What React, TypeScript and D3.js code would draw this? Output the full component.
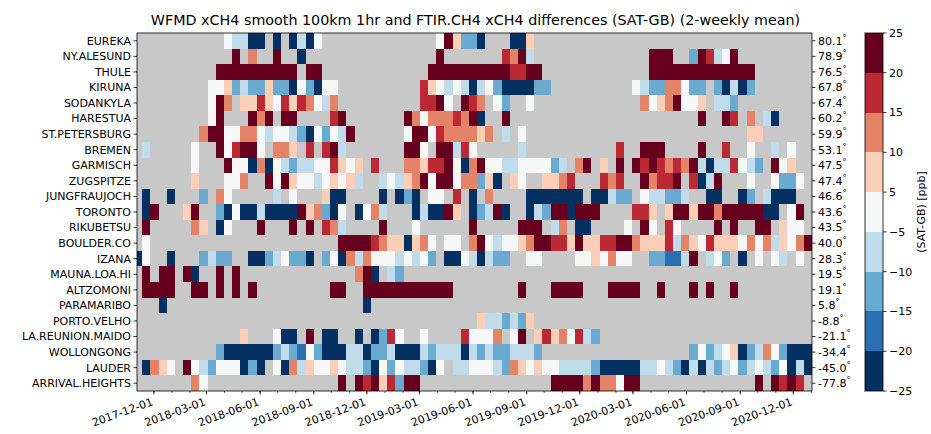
import React from "react";
import * as d3 from "d3";

const stations = [
  "EUREKA", "NY.ALESUND", "THULE", "KIRUNA", "SODANKYLA", "HARESTUA",
  "ST.PETERSBURG", "BREMEN", "GARMISCH", "ZUGSPITZE", "JUNGFRAUJOCH",
  "TORONTO", "RIKUBETSU", "BOULDER.CO", "IZANA", "MAUNA.LOA.HI", "ALTZOMONI",
  "PARAMARIBO", "PORTO.VELHO", "LA.REUNION.MAIDO", "WOLLONGONG", "LAUDER",
  "ARRIVAL.HEIGHTS",
];
const latitudes = [80.1, 78.9, 76.5, 67.8, 67.4, 60.2, 59.9, 53.1, 47.5, 47.4, 46.6, 43.6, 43.5, 40.0, 28.3, 19.5, 19.1, 5.8, -8.8, -21.1, -34.4, -45.0, -77.8];

const boundaries = [-25, -20, -15, -10, -5, 5, 10, 15, 20, 25];
const levelValues = [-22.5, -17.5, -12.5, -7.5, 0, 7.5, 12.5, 17.5, 22.5];
const levelColors = ["#053061", "#2870b1", "#68aad0", "#c0dceb", "#f6f7f7", "#fbceb7", "#e58368", "#bb2a34", "#67001f"];
const missingColor = "#c8c8c8";

// 2-weekly bins starting on this date; each char = binned difference level (0..8), '.' = no data
const firstBinStart = [2017, 9, 28];
const binDays = 14;
const axisStart = [2017, 10, 2];
const axisEnd = [2021, 0, 2];

const rowCodes = [
  ".......... .43300.0.0 304....... .......485 220...005. .......... .......... .......... ...",
  ".......... ..8.6..8.. 0......... .......8.. .....7683. .......... ...888..28 7348...... ...",
  ".......... 8888888888 .88....... ......8888 8888887788 .......... ...8888888 888888.... ...",
  ".........4 4523225220 42044..... .....75434 3034200002 2......... .432266422 .20302.... ...",
  ".........4 86.5575475 76436..... .....7784. 876.42..4. .......... ..64568445 .332...... ...",
  ".........4 8...868.88 ....78.... ...8646667 680..8.... .......... .........8 ..87.6.30. ...",
  "........68 8446643443 2042438... ...4884766 6656.3.4.. .......... .......... .....55... ...",
  ".3.....4.. 847884.665 .7.783.... ...884.883 74.....3.. .........7 ..888....8 ..7..4..3. 4..",
  ".......4.. .844060432 33447545.7 ...6657784 0684433444 423.68.5.8 .878767683 0337432.84 5..",
  ".......5.. .446..8485 44345453.. 3435684884 66250.54.. 5567...767 ..86778.70 38...4..42 24.",
  ".0..0...2. 64.....3.4 ...500.... 0.020.44.7 .0.6....00 00000.0032 2.433223.. 00..02.300 0..",
  ".08...58.. 2040030000 856204.046 3...030085 .02380..03 2880888... .775.58858 868888800. 48.",
  ".8.....65. 04...8...8 .8.763.... 8...4..... .8.....888 .36.00.... 4.84.74... .8.8..88.5 44.",
  ".4........ .......... .....88887 6550564.44 .684344568 8775855778 8655573654 7555464635 468",
  "04..0...23 22..002342 20.2406364 4434342.00 430322..44 ....445464 4..221138. 342.0.4.43 .4.",
  ".8.88.80.. 8.8....... .......680 .32....... .......... .......... .......... .......... ...",
  ".8888..88. 8.8.8..... ....88..88 888888888. .......8.. .8888...88 88..8...8. 8..8...... ...",
  "...0...... .......... ........0. .......... .......... .......... .......... .......... ...",
  ".......... .......... .......... .......... ..5332325. .......... .......... .......... ...",
  ".......... ...5...400 .8.00..0.0 274..4.... 74446.48.5 7564732... .......... .......... ...",
  ".......... 2000000232 1420003302 2300032333 0323223332 .......... ........24 2345023642 000",
  ".0654.8432 444020.406 3544543320 42433204.3 3444326545 4433332000 0033432030 3234234324 030",
  ".......64. .......... .....8.878 57288..... .......... .888868664 88........ ......8.87 87.",
];

const titleText = "WFMD xCH4 smooth 100km 1hr and FTIR.CH4 xCH4 differences (SAT-GB) (2-weekly mean)";
const colorbarLabel = "(SAT-GB) [ppb]";

const W = 931, H = 434;
const PL = 137, PR = 812, PT = 33, PB = 391;
const CB = { x0: 865, x1: 883 };
const FONT = "DejaVu Sans, sans-serif";
const FS = 11;

export default function App() {
  const utc = (a: number[]) => new Date(Date.UTC(a[0], a[1], a[2]));
  const x = d3.scaleUtc().domain([utc(axisStart), utc(axisEnd)]).range([PL, PR]);
  const y = d3.scaleBand<string>().domain(stations).range([PT, PB]);
  const color = d3.scaleThreshold<number, string>().domain(boundaries.slice(1, -1)).range(levelColors);
  const bin0 = utc(firstBinStart);

  const cells: { key: string; x: number; w: number; y: number; h: number; fill: string }[] = [];
  rowCodes.forEach((raw, r) => {
    const code = raw.replace(/ /g, "");
    for (let i = 0; i < code.length; i++) {
      const ch = code[i];
      if (ch === ".") continue;
      const v = levelValues[+ch];
      const s = d3.utcDay.offset(bin0, i * binDays);
      const e = d3.utcDay.offset(bin0, (i + 1) * binDays);
      const x0 = x(s), x1 = x(e);
      cells.push({ key: r + "-" + i, x: x0, w: x1 - x0, y: y(stations[r]) as number, h: y.bandwidth(), fill: color(v) });
    }
  });

  const [d0, d1] = x.domain();
  const months = d3.utcMonth.range(d0, d1);
  const major = months.filter((d) => d.getUTCMonth() % 3 === 2);
  const fmt = d3.utcFormat("%Y-%m-%d");

  const cbY = d3.scalePoint<string>().domain(boundaries.map(String)).range([PB, PT]);
  const latLabel = (v: number) => (v < 0 ? "-" : "") + Math.abs(v).toFixed(1);

  return (
    <svg width={W} height={H} style={{ position: "absolute", left: 0, top: 0, background: "#fff" }} fontFamily={FONT}>
      <defs>
        <clipPath id="plotclip">
          <rect x={PL} y={PT} width={PR - PL} height={PB - PT} />
        </clipPath>
      </defs>
      <rect x={0} y={0} width={W} height={H} fill="#fff" />
      <text x={(PL + PR) / 2 + 1} y={25} textAnchor="middle" fontSize={14.3} fill="#000">{titleText}</text>

      <rect x={PL} y={PT} width={PR - PL} height={PB - PT} fill={missingColor} />
      <g clipPath="url(#plotclip)" shapeRendering="crispEdges">
        {cells.map((c) => (
          <rect key={c.key} x={c.x} y={c.y} width={c.w} height={c.h} fill={c.fill} />
        ))}
      </g>
      <rect x={PL} y={PT} width={PR - PL} height={PB - PT} fill="none" stroke="#000" strokeWidth={0.8} />

      {stations.map((s, i) => {
        const cy = (y(s) as number) + y.bandwidth() / 2;
        return (
          <g key={s}>
            <line x1={PL - 3.5} x2={PL} y1={cy} y2={cy} stroke="#000" strokeWidth={0.8} />
            <text x={PL - 6} y={cy} dy="0.35em" textAnchor="end" fontSize={FS}>{s}</text>
            <line x1={PR} x2={PR + 3.5} y1={cy} y2={cy} stroke="#000" strokeWidth={0.8} />
            <text x={PR + 6} y={cy} dy="0.35em" textAnchor="start" fontSize={FS}>
              {latLabel(latitudes[i])}
              <tspan dy="-4" fontSize={8}>{"°"}</tspan>
            </text>
          </g>
        );
      })}

      {months.map((m) => (
        <line key={"mn" + m.getTime()} x1={x(m)} x2={x(m)} y1={PB} y2={PB + 2} stroke="#000" strokeWidth={0.6} />
      ))}
      {major.map((m) => {
        const tx = x(m);
        return (
          <g key={"mj" + m.getTime()}>
            <line x1={tx} x2={tx} y1={PB} y2={PB + 3.5} stroke="#000" strokeWidth={0.8} />
            <text transform={`translate(${tx - 3},${PB + 6}) rotate(-20)`} textAnchor="end" dy="0.75em" fontSize={FS}>{fmt(m)}</text>
          </g>
        );
      })}

      <g shapeRendering="crispEdges">
        {levelColors.map((c, i) => {
          const top = cbY(String(boundaries[i + 1])) as number;
          const bot = cbY(String(boundaries[i])) as number;
          return <rect key={c} x={CB.x0} y={top} width={CB.x1 - CB.x0} height={bot - top} fill={c} />;
        })}
      </g>
      <rect x={CB.x0} y={PT} width={CB.x1 - CB.x0} height={PB - PT} fill="none" stroke="#000" strokeWidth={0.8} />
      {boundaries.map((b) => {
        const ty = cbY(String(b)) as number;
        return (
          <g key={"cb" + b}>
            <line x1={CB.x1} x2={CB.x1 + 3.5} y1={ty} y2={ty} stroke="#000" strokeWidth={0.8} />
            <text x={CB.x1 + 6} y={ty} dy="0.35em" fontSize={FS}>{b < 0 ? "\u2212" + Math.abs(b) : String(b)}</text>
          </g>
        );
      })}
      <text transform={`translate(925,${(PT + PB) / 2}) rotate(-90)`} textAnchor="middle" fontSize={FS}>{colorbarLabel}</text>
    </svg>
  );
}
